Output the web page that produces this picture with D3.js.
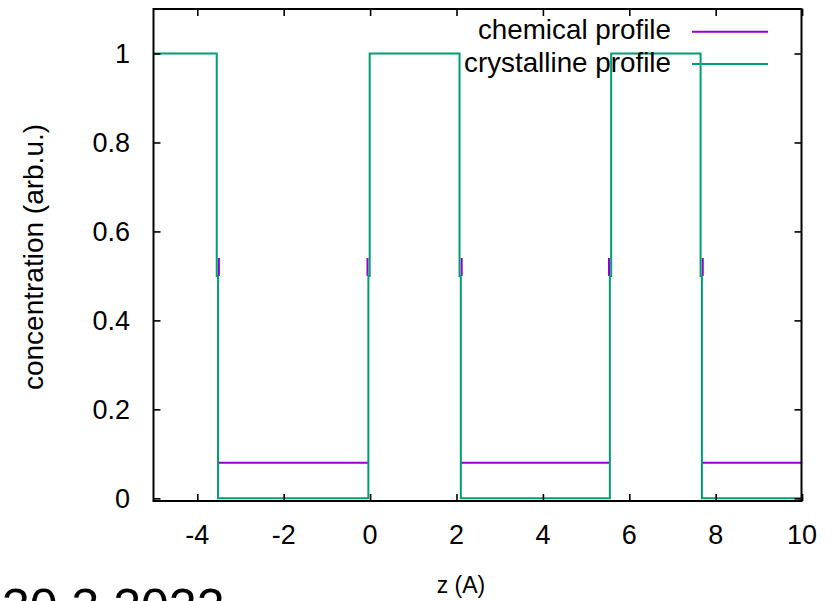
<!DOCTYPE html>
<html>
<head>
<meta charset="utf-8">
<script src="https://cdn.jsdelivr.net/npm/d3@7"></script>
<style>
  html, body { margin: 0; padding: 0; background: #fff; }
  svg { display: block; }
  text { font-family: "Liberation Sans", Arial, Helvetica, sans-serif; fill: #000; }
</style>
</head>
<body>
<svg id="chart" width="835" height="601"></svg>
<script>
// ---- data ----
const xTicks = [-4, -2, 0, 2, 4, 6, 8, 10];
const yTicks = [0, 0.2, 0.4, 0.6, 0.8, 1];
const seriesNames = ["chemical profile", "crystalline profile"];
const seriesColors = ["#9400d3", "#009e73"];
// crystalline profile: step profile (x, y)
const crystalline = [
  [-5, 1], [-3.55, 1], [-3.55, 0.5], [-3.52, 0.5], [-3.52, 0],
  [-0.04, 0], [-0.04, 0.5], [-0.01, 0.5], [-0.01, 1],
  [2.07, 1], [2.07, 0.5], [2.10, 0.5], [2.10, 0],
  [5.55, 0], [5.55, 0.5], [5.58, 0.5], [5.58, 1],
  [7.65, 1], [7.65, 0.5], [7.68, 0.5], [7.68, 0],
  [10, 0]
];
// chemical profile: 1 / 0.08 steps (the parts at 1 lie under the crystalline line);
// null marks a break in the line
const chemical = [
  [-3.50, 0.54], [-3.50, 0.5], null,
  [-3.52, 0.08], [-0.04, 0.08], null,
  [-0.06, 0.5], [-0.06, 0.54], null,
  [2.12, 0.54], [2.12, 0.5], null,
  [2.10, 0.08], [5.55, 0.08], null,
  [5.53, 0.5], [5.53, 0.54], null,
  [7.70, 0.54], [7.70, 0.5], null,
  [7.68, 0.08], [10, 0.08]
];
const xDomain = [-5, 10];
const yDomain = [-0.006, 1.1];
const xTitle = "z (A)";
const yTitle = "concentration (arb.u.)";
const dateText = "30.3.2022";

// ---- layout ----
const L = 153.5, R = 801.5, T = 9, B = 501;
const svg = d3.select("#chart");
const x = d3.scaleLinear().domain(xDomain).range([L + 0.6, R + 0.6]);
const y = d3.scaleLinear().domain(yDomain).range([B, T]);
const FS = 27;

// series lines
const line = d3.line()
  .defined(d => d !== null)
  .x(d => x(d[0])).y(d => y(d[1]));

const plot = svg.append("g");
plot.append("path").datum(chemical)
  .attr("d", line).attr("fill", "none")
  .attr("stroke", seriesColors[0]).attr("stroke-width", 2);
plot.append("path").datum(crystalline)
  .attr("d", line).attr("fill", "none")
  .attr("stroke", seriesColors[1]).attr("stroke-width", 2);

// axes with inward ticks (mirrored)
const tickLen = 7;
const axB = d3.axisBottom(x).tickValues(xTicks).tickSize(-tickLen).tickFormat("");
const axT = d3.axisTop(x).tickValues(xTicks).tickSize(-tickLen).tickFormat("");
const axL = d3.axisLeft(y).tickValues(yTicks).tickSize(-tickLen).tickFormat("");
const axR = d3.axisRight(y).tickValues(yTicks).tickSize(-tickLen).tickFormat("");
function styleAxis(g) {
  g.select(".domain").remove();
  g.selectAll(".tick line").attr("stroke", "#000").attr("stroke-width", 1.6);
}
svg.append("g").attr("transform", `translate(0,${B})`).call(axB).call(styleAxis);
svg.append("g").attr("transform", `translate(0,${T})`).call(axT).call(styleAxis);
svg.append("g").attr("transform", `translate(${L},0)`).call(axL).call(styleAxis);
svg.append("g").attr("transform", `translate(${R},0)`).call(axR).call(styleAxis);

// frame
svg.append("rect").attr("x", L).attr("y", T).attr("width", R - L).attr("height", B - T)
  .attr("fill", "none").attr("stroke", "#000").attr("stroke-width", 2);

// tick labels
svg.append("g").selectAll("text").data(xTicks).join("text")
  .attr("x", d => x(d)).attr("y", 544)
  .attr("text-anchor", "middle").attr("font-size", FS)
  .text(d => String(d));
svg.append("g").selectAll("text").data(yTicks).join("text")
  .attr("x", 130).attr("y", d => y(d)).attr("dy", "0.36em")
  .attr("text-anchor", "end").attr("font-size", FS)
  .text(d => d3.format("~g")(d));

// axis titles
svg.append("text").attr("x", 461).attr("y", 593)
  .attr("text-anchor", "middle").attr("font-size", 23).text(xTitle);
svg.append("text").attr("transform", `translate(43,257) rotate(-90)`)
  .attr("text-anchor", "middle").attr("font-size", 28).text(yTitle);

// legend
const legY = [31.7, 64];
const leg = svg.append("g");
seriesNames.forEach((name, i) => {
  leg.append("text").attr("x", 671).attr("y", legY[i]).attr("dy", "0.28em")
    .attr("text-anchor", "end").attr("font-size", 27.8).text(name);
  leg.append("line").attr("x1", 692).attr("x2", 768)
    .attr("y1", legY[i]).attr("y2", legY[i])
    .attr("stroke", seriesColors[i]).attr("stroke-width", 2);
});

// date stamp (cut off at the bottom edge)
svg.append("text").attr("x", 2).attr("y", 624).attr("font-size", 50).text(dateText);
</script>
</body>
</html>
